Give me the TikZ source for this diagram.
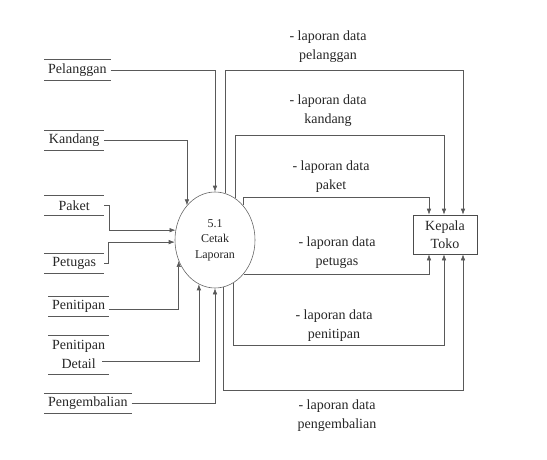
\documentclass[tikz,border=0pt]{standalone}
\usepackage{fontspec}
\setmainfont{Liberation Serif}
\usetikzlibrary{arrows.meta, shapes.geometric}

\begin{document}
\begin{tikzpicture}[x=1pt, y=-1pt, >={Latex[length=6pt,width=4.5pt]},
  flow/.style={->, draw=black!65, line width=0.6pt},
  store/.style={font=\fontsize{14}{19}\selectfont, minimum width=60pt,
    minimum height=20pt, inner xsep=4pt, inner ysep=0pt, anchor=west, text=black!85},
  lbl/.style={font=\fontsize{14}{19}\selectfont, align=center, text=black!85}]
  \useasboundingbox (0,0) rectangle (547,460);

  % Process and entity
  \node[ellipse, draw=black!60, line width=0.6pt, minimum width=80pt, minimum height=96pt,
    inner sep=0pt, align=center, text=black!85, font=\fontsize{12}{15.5}\selectfont]
    (proc) at (215,240) {5.1\\Cetak\\Laporan};
  \node[draw=black!70, line width=0.6pt, minimum width=64pt, minimum height=39pt, inner sep=1pt,
    align=center, text=black!85, font=\fontsize{14}{18}\selectfont]
    (kt) at (445,234.5) {Kepala\\Toko};

  % Data stores
  \node[store] (pel) at (44,70) {Pelanggan};
  \node[store] (kan) at (44,140.5) {Kandang};
  \node[store] (pak) at (44,205.5) {Paket};
  \node[store] (ptg) at (44,263.5) {Petugas};
  \node[store, minimum width=57pt] (pen) at (48,306) {Penitipan};
  \node[store, minimum width=57pt, minimum height=39pt, align=center] (det) at (48,354.5) {Penitipan\\Detail};
  \node[store] (pgb) at (44,403.5) {Pengembalian};
  \foreach \s in {pel,kan,pak,ptg,pen,det,pgb}
    \draw[black!65, line width=0.6pt] (\s.north west) -- (\s.north east)
      (\s.south west) -- (\s.south east);

  % Inputs
  \draw[flow] (pel.east) -| (proc.north);
  \draw[flow] (kan.east) -| (proc.129);
  \draw[flow] (pak.east) -- ++(5,0) |- (proc.166);
  \draw[flow] (ptg.east) -- ++(4,0) |- (proc.183);
  \draw[flow] ([yshift=-3pt]pen.east) -| (proc.210);
  \draw[flow] ([shift={(-7pt,-6.5pt)}]det.east) -| (proc.250);
  \draw[flow] (pgb.east) -| (proc.south);

  % Outputs
  \coordinate (yPel) at (0,70);
  \coordinate (yKan) at (0,135);
  \coordinate (yPak) at (0,197);
  \coordinate (yPen) at (0,345);
  \coordinate (yPgb) at (0,390);
  \draw[flow] (proc.78) -- (proc.78 |- yPel) -| ([xshift=18pt]kt.north);
  \draw[flow] (proc.64) -- (proc.64 |- yKan) -| ([xshift=-1pt]kt.north);
  \draw[flow] (proc.51) -- (proc.51 |- yPak) -| ([xshift=-16pt]kt.north);
  \draw[flow] (proc.310) -| ([xshift=-16pt]kt.south);
  \draw[flow] (proc.293) -- (proc.293 |- yPen) -| ([xshift=-1pt]kt.south);
  \draw[flow] (proc.280) -- (proc.280 |- yPgb) -| ([xshift=18pt]kt.south);

  % Labels
  \node[lbl] (lPel) at (328,47) {- laporan data\\pelanggan};
  \node[lbl] (lKan) at (328,111) {- laporan data\\kandang};
  \node[lbl] (lPak) at (331,177) {- laporan data\\paket};
  \node[lbl] (lPtg) at (337,252.5) {- laporan data\\petugas};
  \node[lbl] (lPen) at (334,325.5) {- laporan data\\penitipan};
  \node[lbl] (lPgb) at (337,415.5) {- laporan data\\pengembalian};
\end{tikzpicture}
\end{document}
